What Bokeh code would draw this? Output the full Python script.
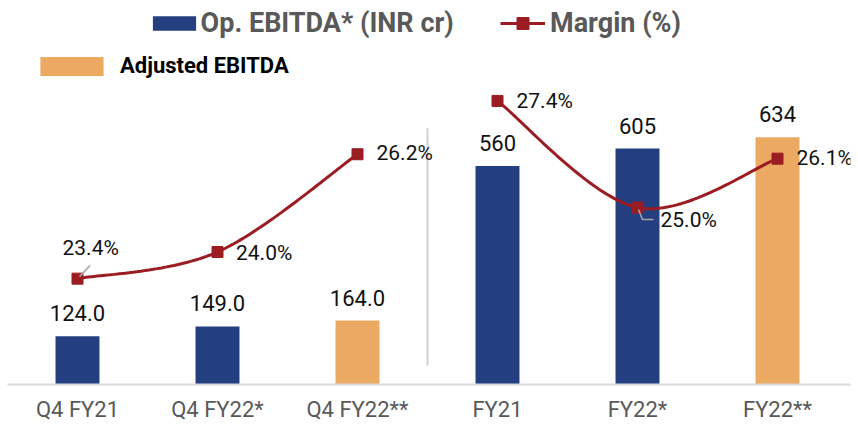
import numpy as np
from bokeh.plotting import figure
from bokeh.models import (ColumnDataSource, Range1d, FixedTicker, Legend, LegendItem)
from bokeh.core.properties import value
from bokeh.embed import file_html
from bokeh.resources import INLINE

# ---------------- data ----------------
categories = ["Q4 FY21", "Q4 FY22*", "Q4 FY22**", "FY21", "FY22*", "FY22**"]
ebitda = [124.0, 149.0, 164.0, 560, 605, 634]
adjusted = [False, False, True, False, False, True]
bar_labels = ["124.0", "149.0", "164.0", "560", "605", "634"]
margin_quarter = [23.4, 24.0, 26.2]
margin_year = [27.4, 25.0, 26.1]

# ---------------- style ----------------
NAVY = "#233F80"
ORANGE = "#ECA962"
RED = "#9B1C22"
GREY_TXT = "#595959"
FONT = "Roboto"

W, H = 858, 424
FRAME_H = 382          # frame height (px), frame top at canvas top
BAR_PX = 0.388         # px per INR cr
MARGIN_PX = 44.2       # px per margin %
X_PX = 140             # px per category
LEFT, RIGHT = 7, 8     # frame borders

x = list(range(len(categories)))
bar_top = FRAME_H / BAR_PX
m_top = 23.4 + 276.7 / MARGIN_PX
m_bot = m_top - FRAME_H / MARGIN_PX

p = figure(width=W, height=H, output_backend="svg", toolbar_location=None,
           x_range=Range1d(-(77 - LEFT) / X_PX, (W - RIGHT - 77) / X_PX),
           y_range=Range1d(0, bar_top), min_border=0,
           min_border_left=LEFT, min_border_right=RIGHT, min_border_top=0)
p.extra_y_ranges = {"margin": Range1d(m_bot, m_top)}
p.outline_line_color = None
p.xgrid.visible = False
p.ygrid.visible = False
p.yaxis.visible = False
p.background_fill_color = "white"
p.border_fill_color = "white"

# bars
navy_idx = [i for i in x if not adjusted[i]]
orng_idx = [i for i in x if adjusted[i]]
src_navy = ColumnDataSource(dict(x=[x[i] for i in navy_idx], v=[ebitda[i] for i in navy_idx]))
src_orng = ColumnDataSource(dict(x=[x[i] for i in orng_idx], v=[ebitda[i] for i in orng_idx]))
r_navy = p.vbar(x="x", top="v", width=0.314, source=src_navy, fill_color=NAVY, line_color=None)
r_orng = p.vbar(x="x", top="v", width=0.314, source=src_orng, fill_color=ORANGE, line_color=None)

# bar labels
p.text(x=x, y=ebitda, text=bar_labels, text_font=value(FONT), text_font_size="22px",
       text_color="#111111", text_align="center", text_baseline="middle", y_offset=-23)

# separator
p.segment(x0=[2.5], y0=[49], x1=[2.5], y1=[657], line_color="#D9D9D9", line_width=2.5)

# smooth margin line (Catmull-Rom style bezier, as in spreadsheet smoothing)
def smooth(xs, ys, n=40):
    pts = list(zip(xs, ys))
    ox, oy = [], []
    for i in range(len(pts) - 1):
        p0 = pts[i - 1] if i > 0 else pts[i]
        p1, p2 = pts[i], pts[i + 1]
        p3 = pts[i + 2] if i + 2 < len(pts) else pts[i + 1]
        c1 = (p1[0] + (p2[0] - p0[0]) / 6, p1[1] + (p2[1] - p0[1]) / 6)
        c2 = (p2[0] - (p3[0] - p1[0]) / 6, p2[1] - (p3[1] - p1[1]) / 6)
        t = np.linspace(0, 1, n)
        bx = (1 - t) ** 3 * p1[0] + 3 * (1 - t) ** 2 * t * c1[0] + 3 * (1 - t) * t ** 2 * c2[0] + t ** 3 * p2[0]
        by = (1 - t) ** 3 * p1[1] + 3 * (1 - t) ** 2 * t * c1[1] + 3 * (1 - t) * t ** 2 * c2[1] + t ** 3 * p2[1]
        ox.extend(bx.tolist()); oy.extend(by.tolist())
    return ox, oy

xq, yq = smooth(x[:3], margin_quarter)
xy, yy = smooth(x[3:], margin_year)
r_line = p.line(xq, yq, y_range_name="margin", line_color=RED, line_width=3)
p.line(xy, yy, y_range_name="margin", line_color=RED, line_width=3)

margins = margin_quarter + margin_year
r_mark = p.scatter(x, margins, y_range_name="margin", marker="square", size=11,
                   fill_color=RED, line_color=RED)

# leader lines (gray)
p.multi_line(
    xs=[[x[0] + 2 / X_PX, x[0] + 12.6 / X_PX], [x[4] + 1 / X_PX, x[4] + 5 / X_PX, x[4] + 16 / X_PX]],
    ys=[[margins[0] + 2 / MARGIN_PX, margins[0] + 13 / MARGIN_PX],
        [margins[4] - 2 / MARGIN_PX, margins[4] - 12 / MARGIN_PX, margins[4] - 12 / MARGIN_PX]],
    y_range_name="margin", line_color="#A6A6A6", line_width=1.5)

lbl_dx = [-15, 18.5, 19, 19, 23, 19]
lbl_dy = [-31, 1, -1, 0, 12, -1]
p.text(x=x, y=margins, text=[f"{m:.1f}%" for m in margins], y_range_name="margin",
       x_offset=lbl_dx, y_offset=lbl_dy, text_font=value(FONT), text_font_size="21px",
       text_color="#111111", text_align="left", text_baseline="middle")

# x axis
p.xaxis.ticker = FixedTicker(ticks=x)
p.xaxis.major_label_overrides = {i: c for i, c in zip(x, categories)}
p.xaxis.major_tick_line_color = None
p.xaxis.minor_tick_line_color = None
p.xaxis.axis_line_color = "#D9D9D9"
p.xaxis.axis_line_width = 2
p.xaxis.major_label_text_font = FONT
p.xaxis.major_label_text_font_size = "22px"
p.xaxis.major_label_text_color = GREY_TXT
p.xaxis.major_label_standoff = 6

# legends
def mk_legend(label, renderers, loc, gw, gh, standoff, size, color):
    return Legend(items=[LegendItem(label=value(label), renderers=renderers)],
                  location=loc, glyph_width=gw, glyph_height=gh, label_standoff=standoff,
                  padding=0, margin=0, spacing=0, border_line_color=None,
                  background_fill_alpha=0, label_text_font=FONT, label_text_font_size=size,
                  label_text_font_style="bold", label_text_color=color)

p.add_layout(mk_legend("Op. EBITDA* (INR cr)", [r_navy], (146.6 - LEFT, FRAME_H - 37), 54, 18, 0, "27px", GREY_TXT))
p.add_layout(mk_legend("Margin (%)", [r_line, r_mark], (500 - LEFT, FRAME_H - 37), 45, 30, 5, "27px", GREY_TXT))
p.add_layout(mk_legend("Adjusted EBITDA", [r_orng], (32 - LEFT, FRAME_H - 76), 79, 24, 9, "22px", "#000000"))

open("out.html", "w").write(file_html(p, INLINE))
